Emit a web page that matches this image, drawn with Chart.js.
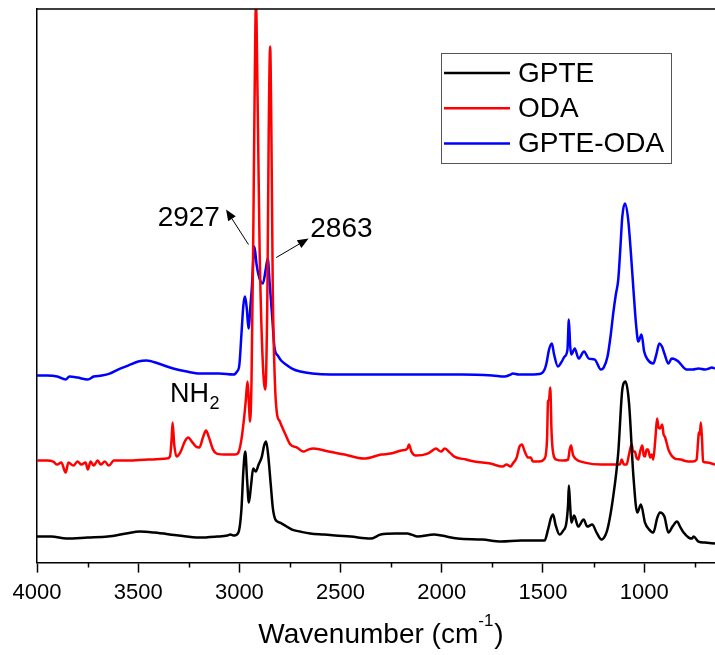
<!DOCTYPE html>
<html>
<head>
<meta charset="utf-8">
<script src="https://cdn.jsdelivr.net/npm/chart.js@4.4.1/dist/chart.umd.min.js"></script>
<style>
  html, body { margin: 0; padding: 0; background: #fff; }
  #wrap { width: 715px; height: 655px; }
</style>
</head>
<body>
<div id="wrap"><canvas id="myChart"></canvas></div>
<script>
// FTIR spectra, stacked with offsets (a.u.), wavenumbers in cm-1
const gpteWn = [4000, 3930, 3854, 3750, 3650, 3560, 3492, 3420, 3300, 3200, 3110, 3060, 3045, 3025, 3005,
  2990, 2980, 2971, 2962, 2953, 2942, 2932, 2919, 2905, 2889, 2878, 2868, 2858, 2845, 2835, 2822, 2800,
  2782, 2740, 2700, 2650, 2583, 2450, 2352, 2302, 2230, 2170, 2150, 2120, 2038, 2000, 1922, 1800, 1707,
  1608, 1530, 1492, 1475, 1460, 1450, 1438, 1418, 1400, 1385, 1376, 1372, 1366, 1360, 1346, 1326, 1299,
  1281, 1257, 1235, 1211, 1190, 1178, 1153, 1128, 1108, 1092, 1075, 1053, 1034, 1016, 996, 975, 955,
  935, 922, 900, 880, 860, 838, 820, 805, 780, 764, 756, 731, 700, 650];
const gpteAbs = [0.26, 0.26, 0.24, 0.25, 0.26, 0.29, 0.31, 0.30, 0.27, 0.25, 0.26, 0.27, 0.28, 0.27, 0.30,
  0.53, 0.93, 1.11, 0.83, 0.60, 0.78, 0.94, 0.91, 0.98, 1.06, 1.17, 1.21, 1.08, 0.78, 0.55, 0.43, 0.40,
  0.38, 0.33, 0.31, 0.29, 0.28, 0.26, 0.24, 0.28, 0.29, 0.29, 0.28, 0.26, 0.28, 0.27, 0.24, 0.23, 0.21,
  0.22, 0.22, 0.22, 0.33, 0.45, 0.48, 0.38, 0.28, 0.32, 0.39, 0.58, 0.77, 0.58, 0.40, 0.47, 0.36, 0.43,
  0.36, 0.38, 0.30, 0.23, 0.28, 0.36, 0.66, 1.10, 1.73, 1.81, 1.60, 0.86, 0.50, 0.58, 0.40, 0.33, 0.30,
  0.45, 0.50, 0.46, 0.30, 0.36, 0.41, 0.35, 0.30, 0.25, 0.24, 0.26, 0.21, 0.20, 0.19];

const odaWn = [4000, 3950, 3920, 3900, 3880, 3858, 3845, 3820, 3800, 3780, 3760, 3749, 3735, 3720, 3700,
  3685, 3665, 3645, 3620, 3550, 3450, 3360, 3343, 3335, 3330, 3322, 3310, 3290, 3270, 3253, 3235, 3215,
  3198, 3180, 3165, 3150, 3130, 3112, 3060, 3020, 3005, 2990, 2975, 2968, 2960, 2955, 2947, 2940, 2932,
  2925, 2918, 2910, 2900, 2885, 2872, 2862, 2855, 2848, 2842, 2835, 2825, 2815, 2800, 2790, 2770, 2748,
  2715, 2683, 2660, 2633, 2560, 2480, 2385, 2300, 2252, 2200, 2170, 2162, 2150, 2128, 2070, 2040, 2029,
  2004, 1985, 1960, 1938, 1880, 1839, 1760, 1699, 1680, 1660, 1649, 1630, 1616, 1604, 1590, 1574, 1560,
  1550, 1520, 1492, 1480, 1475, 1470, 1464, 1458, 1452, 1434, 1400, 1376, 1368, 1361, 1352, 1340, 1293,
  1211, 1136, 1120, 1111, 1100, 1087, 1075, 1062, 1054, 1046, 1038, 1029, 1020, 1009, 1002, 996, 988,
  981, 970, 962, 955, 945, 936, 929, 922, 911, 904, 898, 880, 865, 848, 820, 782, 760, 741, 733, 730,
  725, 720, 714, 709, 690, 650];
const odaAbs = [1.02, 1.02, 1.01, 0.98, 1.00, 0.90, 1.00, 0.97, 1.01, 0.98, 1.00, 0.93, 1.01, 0.97, 1.02,
  0.98, 1.01, 0.97, 1.02, 1.02, 1.03, 1.04, 1.06, 1.23, 1.40, 1.18, 1.06, 1.11, 1.21, 1.25, 1.21, 1.16,
  1.15, 1.25, 1.32, 1.25, 1.13, 1.09, 1.08, 1.08, 1.10, 1.23, 1.48, 1.63, 1.81, 1.68, 1.41, 1.83, 3.13,
  4.63, 5.60, 4.63, 3.13, 2.03, 1.73, 2.63, 4.33, 5.16, 4.33, 2.73, 1.83, 1.50, 1.41, 1.36, 1.27, 1.18,
  1.15, 1.11, 1.13, 1.14, 1.11, 1.08, 1.04, 1.08, 1.09, 1.12, 1.14, 1.18, 1.11, 1.07, 1.09, 1.13, 1.14,
  1.11, 1.14, 1.10, 1.06, 1.03, 1.01, 0.99, 0.96, 0.98, 0.96, 0.99, 1.05, 1.16, 1.18, 1.11, 1.05, 1.05,
  1.01, 1.01, 1.04, 1.23, 1.61, 1.63, 1.75, 1.33, 1.13, 1.03, 1.02, 1.03, 1.13, 1.17, 1.08, 1.04, 1.00,
  0.98, 0.98, 0.98, 1.03, 0.98, 0.98, 1.08, 1.18, 1.11, 1.11, 1.05, 1.03, 1.11, 1.17, 1.07, 1.06, 1.13,
  1.13, 1.05, 1.08, 1.03, 1.23, 1.44, 1.35, 1.34, 1.38, 1.28, 1.26, 1.13, 1.07, 1.04, 1.03, 1.01, 1.01,
  1.03, 1.23, 1.30, 1.28, 1.40, 1.23, 1.01, 1.00, 0.98];

const blendWn = [4000, 3950, 3900, 3858, 3840, 3800, 3749, 3720, 3680, 3641, 3600, 3550, 3500, 3459, 3400,
  3327, 3260, 3195, 3100, 3030, 3012, 3000, 2990, 2980, 2972, 2963, 2955, 2945, 2939, 2926, 2915, 2906,
  2895, 2884, 2870, 2860, 2850, 2839, 2826, 2810, 2798, 2770, 2740, 2699, 2640, 2550, 2400, 2170, 1900,
  1750, 1690, 1660, 1649, 1620, 1560, 1508, 1492, 1483, 1470, 1456, 1445, 1426, 1410, 1393, 1379, 1372,
  1366, 1360, 1343, 1324, 1297, 1274, 1244, 1214, 1200, 1181, 1165, 1153, 1140, 1128, 1118, 1108, 1095,
  1079, 1065, 1053, 1040, 1029, 1013, 1000, 983, 955, 940, 925, 912, 900, 880, 864, 845, 831, 790, 760,
  731, 699, 680, 666, 650];
const blendAbs = [1.87, 1.87, 1.86, 1.83, 1.86, 1.85, 1.83, 1.86, 1.87, 1.89, 1.93, 1.97, 2.01, 2.02, 1.99,
  1.94, 1.91, 1.89, 1.89, 1.88, 1.91, 1.98, 2.28, 2.58, 2.66, 2.53, 2.34, 2.58, 2.73, 3.16, 2.98, 2.88,
  2.81, 2.79, 2.93, 3.04, 2.78, 2.49, 2.14, 2.07, 2.03, 1.98, 1.94, 1.91, 1.89, 1.88, 1.88, 1.88, 1.88,
  1.87, 1.86, 1.88, 1.89, 1.88, 1.88, 1.89, 1.93, 1.99, 2.13, 2.19, 2.08, 1.96, 2.00, 2.06, 2.13, 2.43,
  2.18, 2.08, 2.14, 2.04, 2.11, 2.04, 2.03, 1.93, 1.95, 2.06, 2.28, 2.49, 2.68, 2.83, 3.13, 3.46, 3.59,
  3.43, 3.08, 2.73, 2.38, 2.21, 2.28, 2.11, 2.03, 1.99, 2.08, 2.19, 2.16, 2.09, 1.99, 2.04, 2.03, 2.01,
  1.93, 1.93, 1.94, 1.93, 1.94, 1.95, 1.94];

const seriesNames = ['GPTE', 'ODA', 'GPTE-ODA'];
const seriesColors = ['#000000', '#ff0000', '#0000ff'];
const majorTicks = [4000, 3500, 3000, 2500, 2000, 1500, 1000];
const minorTicks = [3750, 3250, 2750, 2250, 1750, 1250, 750];

// peak labels: text, anchor (wavenumber, intensity), arrow tail -> head
const peakNotes = [
  { text: '2927', wn: 3250, at: 3.445, tail: [2955, 3.18], head: [3066, 3.53] },
  { text: '2863', wn: 2496, at: 3.335, tail: [2818, 3.05], head: [2658, 3.24] },
];

Chart.defaults.font.family = "'Liberation Sans', Arial, sans-serif";
Chart.defaults.color = '#000';

const toPoints = (wn, ab) => wn.map((w, i) => ({ x: w, y: ab[i] }));

const data = {
  datasets: [
    { label: seriesNames[0], data: toPoints(gpteWn, gpteAbs), borderColor: seriesColors[0] },
    { label: seriesNames[1], data: toPoints(odaWn, odaAbs), borderColor: seriesColors[1] },
    { label: seriesNames[2], data: toPoints(blendWn, blendAbs), borderColor: seriesColors[2] },
  ],
};

function drawArrow(ctx, x0, y0, x1, y1, len, half) {
  const a = Math.atan2(y1 - y0, x1 - x0);
  const bx = x1 - len * Math.cos(a), by = y1 - len * Math.sin(a);
  ctx.beginPath();
  ctx.moveTo(x0, y0);
  ctx.lineTo(bx, by);
  ctx.stroke();
  ctx.beginPath();
  ctx.moveTo(x1, y1);
  ctx.lineTo(bx + half * Math.sin(a), by - half * Math.cos(a));
  ctx.lineTo(bx - half * Math.sin(a), by + half * Math.cos(a));
  ctx.closePath();
  ctx.fill();
}

// frame, minor ticks, legend box, notes and axis title
const decorations = {
  id: 'decorations',
  afterDraw(chart) {
    const { ctx, chartArea: { top, bottom, left, right }, scales: { x, y } } = chart;
    ctx.save();
    ctx.strokeStyle = '#000';
    ctx.fillStyle = '#000';
    ctx.lineWidth = 1.5;
    ctx.beginPath();
    ctx.moveTo(left, top);
    ctx.lineTo(right, top);
    minorTicks.forEach(v => {
      const px = Math.round(x.getPixelForValue(v)) + 0.5;
      ctx.moveTo(px, bottom);
      ctx.lineTo(px, bottom + 5);
    });
    ctx.stroke();

    // legend
    const bx = right - 274, by = top + 44, bw = 230, bh = 110;
    ctx.strokeStyle = '#555';
    ctx.lineWidth = 1;
    ctx.strokeRect(bx + 0.5, by + 0.5, bw, bh);
    ctx.font = "28px 'Liberation Sans', Arial, sans-serif";
    ctx.textBaseline = 'middle';
    ctx.textAlign = 'left';
    chart.data.datasets.forEach((ds, i) => {
      const ry = by + 20 + i * 35.3;
      ctx.strokeStyle = ds.borderColor;
      ctx.lineWidth = 2.5;
      ctx.beginPath();
      ctx.moveTo(bx + 3, ry);
      ctx.lineTo(bx + 69, ry);
      ctx.stroke();
      ctx.fillStyle = '#000';
      ctx.fillText(ds.label, bx + 77, ry + 1);
    });

    // peak notes
    ctx.strokeStyle = '#000';
    ctx.fillStyle = '#000';
    ctx.lineWidth = 1;
    ctx.textAlign = 'center';
    peakNotes.forEach(n => {
      ctx.fillText(n.text, x.getPixelForValue(n.wn), y.getPixelForValue(n.at));
      drawArrow(ctx, x.getPixelForValue(n.tail[0]), y.getPixelForValue(n.tail[1]),
        x.getPixelForValue(n.head[0]), y.getPixelForValue(n.head[1]), 11, 4.5);
    });

    // NH2 label
    const nx = x.getPixelForValue(3343), ny = y.getPixelForValue(1.61);
    ctx.textAlign = 'left';
    ctx.textBaseline = 'alphabetic';
    ctx.font = "27px 'Liberation Sans', Arial, sans-serif";
    ctx.fillText('NH', nx, ny);
    const nw = ctx.measureText('NH').width;
    ctx.font = "18px 'Liberation Sans', Arial, sans-serif";
    ctx.fillText('2', nx + nw + 0.5, ny + 7.5);

    // axis title with superscript
    const big = "28px 'Liberation Sans', Arial, sans-serif";
    const small = "17px 'Liberation Sans', Arial, sans-serif";
    ctx.font = big;
    const w1 = ctx.measureText('Wavenumber (cm').width;
    const w3 = ctx.measureText(')').width;
    ctx.font = small;
    const w2 = ctx.measureText('-1').width;
    let tx = (left + right) / 2 + 5 - (w1 + w2 + w3 + 1) / 2;
    const ty = 643;
    ctx.font = big;
    ctx.fillText('Wavenumber (cm', tx, ty);
    tx += w1;
    ctx.font = small;
    ctx.fillText('-1', tx, ty - 17);
    tx += w2 + 1;
    ctx.font = big;
    ctx.fillText(')', tx, ty);
    ctx.restore();
  },
};

const config = {
  type: 'line',
  data,
  options: {
    responsive: true,
    maintainAspectRatio: false,
    animation: false,
    parsing: true,
    layout: { padding: { left: 37, right: 0, top: 9, bottom: 41 } },
    elements: {
      line: { borderWidth: 2.5, cubicInterpolationMode: 'monotone', fill: false },
      point: { radius: 0 },
    },
    plugins: {
      legend: { display: false },
      tooltip: { enabled: false },
    },
    scales: {
      x: {
        type: 'linear',
        reverse: true,
        min: 650,
        max: 4000,
        afterBuildTicks: (scale) => { scale.ticks = majorTicks.map(v => ({ value: v })); },
        ticks: {
          font: { size: 22 },
          color: '#000',
          padding: 7.5,
          maxRotation: 0,
          autoSkip: false,
          callback: (v) => String(v),
        },
        grid: { display: true, drawOnChartArea: false, drawTicks: true, tickLength: 10, tickWidth: 1.5, tickColor: '#000' },
        border: { display: true, color: '#000', width: 1.5 },
      },
      y: {
        type: 'linear',
        min: 0,
        max: 5.535,
        ticks: { display: false },
        grid: { display: false, drawTicks: false },
        border: { display: true, color: '#000', width: 1.5 },
      },
    },
  },
  plugins: [decorations],
};

const myChart = new Chart(document.getElementById('myChart'), config);
</script>
</body>
</html>
